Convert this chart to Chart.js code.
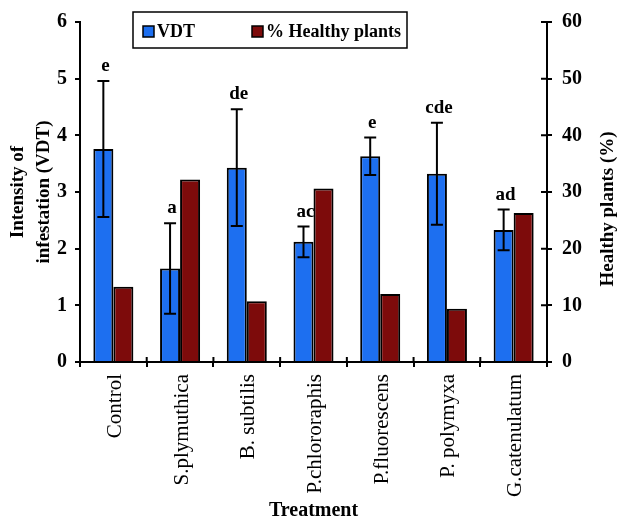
<!DOCTYPE html>
<html>
<head>
<meta charset="utf-8">
<script src="https://cdn.jsdelivr.net/npm/chart.js@4.4.1/dist/chart.umd.min.js"></script>
<style>
  html, body { margin: 0; padding: 0; background: #fff; }
  #wrap { width: 618px; height: 519px; }
</style>
</head>
<body>
<div id="wrap"><canvas id="chart" width="618" height="519"></canvas></div>
<script>
// treatments and values
const treatments = ['Control', 'S.plymuthica', 'B. subtilis', 'P.chlororaphis', 'P.fluorescens', 'P. polymyxa', 'G.catenulatum'];
const vdt = [3.76, 1.65, 3.43, 2.12, 3.63, 3.32, 2.33];
const vdtErr = [1.2, 0.8, 1.03, 0.27, 0.33, 0.9, 0.36];
const healthy = [13.3, 32.2, 10.7, 30.6, 12.0, 9.4, 26.3];
const letters = ['e', 'a', 'de', 'ac', 'e', 'cde', 'ad'];

const SERIF = '"Liberation Serif", "Times New Roman", serif';
const BLUE = '#1d6ff0';
const RED = '#7d0b0b';

// error bars + significance letters on the VDT bars
const errorBars = {
  id: 'errorBars',
  afterDatasetsDraw(chart) {
    const { ctx } = chart;
    const y = chart.scales.y;
    const meta = chart.getDatasetMeta(0);
    ctx.save();
    ctx.strokeStyle = '#000';
    ctx.lineWidth = 2;
    meta.data.forEach((bar, i) => {
      const top = y.getPixelForValue(vdt[i] + vdtErr[i]);
      const bot = y.getPixelForValue(vdt[i] - vdtErr[i]);
      ctx.beginPath();
      ctx.moveTo(bar.x, top); ctx.lineTo(bar.x, bot);
      ctx.moveTo(bar.x - 6, top); ctx.lineTo(bar.x + 6, top);
      ctx.moveTo(bar.x - 6, bot); ctx.lineTo(bar.x + 6, bot);
      ctx.stroke();
      ctx.fillStyle = '#000';
      ctx.font = 'bold 19px ' + SERIF;
      ctx.textAlign = 'center';
      ctx.textBaseline = 'alphabetic';
      ctx.fillText(letters[i], bar.x + 2, top - 10);
    });
    ctx.restore();
  }
};

// boxed legend inside the plot, right axis title, inner tick halves
const extras = {
  id: 'extras',
  afterDraw(chart) {
    const { ctx } = chart;
    const x = chart.scales.x, y1 = chart.scales.y1;
    ctx.save();
    // legend box
    ctx.strokeStyle = '#000';
    ctx.lineWidth = 1.5;
    ctx.strokeRect(133, 12, 274, 36);
    ctx.font = 'bold 18px ' + SERIF;
    ctx.textBaseline = 'middle';
    ctx.textAlign = 'left';
    const items = [[143, 0], [252, 1]];
    items.forEach(([lx, di]) => {
      const ds = chart.data.datasets[di];
      ctx.fillStyle = ds.backgroundColor;
      ctx.fillRect(lx, 26, 11, 11);
      ctx.lineWidth = 1.5;
      ctx.strokeRect(lx, 26, 11, 11);
      ctx.fillStyle = '#000';
      ctx.fillText(ds.label, lx + 14, 32);
    });
    // right axis title (reads bottom to top)
    ctx.save();
    ctx.translate(608, (chart.chartArea.top + chart.chartArea.bottom) / 2 + 17);
    ctx.rotate(-Math.PI / 2);
    ctx.textAlign = 'center';
    ctx.font = 'bold 19px ' + SERIF;
    ctx.fillText('Healthy plants (%)', 0, 0);
    ctx.restore();
    // tick marks crossing to the inside
    ctx.lineWidth = 2;
    ctx.beginPath();
    const n = treatments.length;
    for (let i = 0; i <= n; i++) {
      const px = x.left + i * (x.right - x.left) / n;
      ctx.moveTo(px, x.top); ctx.lineTo(px, x.top - 5);
    }
    y1.ticks.forEach((t) => {
      const py = y1.getPixelForValue(t.value);
      ctx.moveTo(y1.left, py); ctx.lineTo(y1.left - 6, py);
    });
    ctx.stroke();
    ctx.restore();
  }
};

new Chart(document.getElementById('chart'), {
  type: 'bar',
  data: {
    labels: treatments,
    datasets: [
      { label: 'VDT', data: vdt, yAxisID: 'y', backgroundColor: BLUE, borderColor: '#000', borderWidth: 2 },
      { label: '% Healthy plants', data: healthy, yAxisID: 'y1', backgroundColor: RED, borderColor: '#000', borderWidth: 2 }
    ]
  },
  options: {
    responsive: false,
    animation: false,
    layout: { padding: { top: 19, left: 0, right: 0, bottom: 0 } },
    datasets: { bar: { categoryPercentage: 0.6, barPercentage: 1.0 } },
    plugins: { legend: { display: false }, tooltip: { enabled: false } },
    scales: {
      x: {
        afterFit(s) { s.height = 157; },
        border: { color: '#000', width: 2 },
        grid: { drawOnChartArea: false, color: '#000', lineWidth: 2, tickLength: 5 },
        ticks: { color: '#000', font: { family: SERIF, size: 21 }, minRotation: 90, maxRotation: 90, padding: 7, labelOffset: 2, autoSkip: false },
        title: { display: true, text: 'Treatment', color: '#000', font: { family: SERIF, size: 20, weight: 'bold', lineHeight: 0.8 }, padding: { top: 0, bottom: 0 } }
      },
      y: {
        position: 'left',
        min: 0, max: 6,
        afterFit(s) { s.width = 80; },
        border: { color: '#000', width: 2 },
        grid: { drawOnChartArea: false, color: '#000', lineWidth: 2, tickLength: 5 },
        ticks: { stepSize: 1, color: '#000', font: { family: SERIF, size: 20, weight: 'bold' }, padding: 8 },
        title: { display: true, text: ['Intensity of', 'infestation (VDT)'], color: '#000', font: { family: SERIF, size: 19, weight: 'bold', lineHeight: 1.32 }, padding: { top: 6 } }
      },
      y1: {
        position: 'right',
        min: 0, max: 60,
        afterFit(s) { s.width = 71; },
        border: { color: '#000', width: 2 },
        grid: { drawOnChartArea: false, color: '#000', lineWidth: 2, tickLength: 5 },
        ticks: { stepSize: 10, color: '#000', font: { family: SERIF, size: 20, weight: 'bold' }, padding: 10 }
      }
    }
  },
  plugins: [errorBars, extras]
});
</script>
</body>
</html>
